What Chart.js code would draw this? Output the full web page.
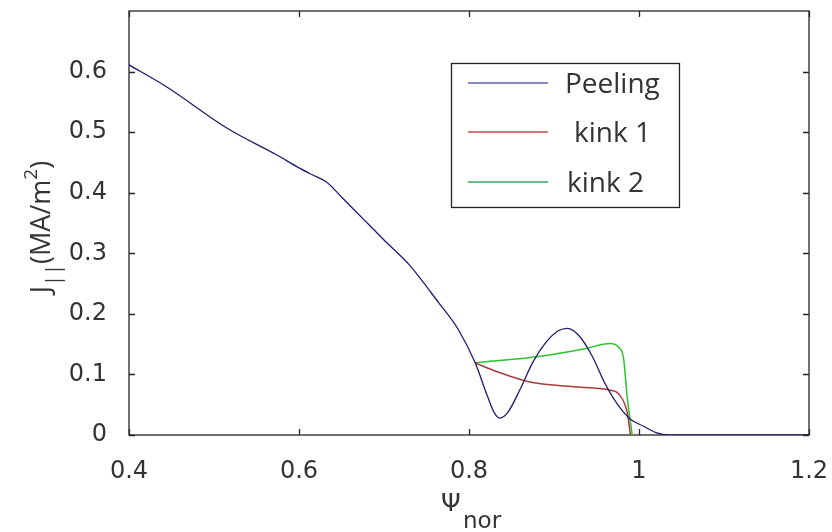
<!DOCTYPE html>
<html>
<head>
<meta charset="utf-8">
<script src="https://cdn.jsdelivr.net/npm/chart.js@4/dist/chart.umd.min.js"></script>
<style>
  html, body { margin: 0; padding: 0; background: #fff; }
  #wrap { width: 832px; height: 532px; }
</style>
</head>
<body>
<div id="wrap"><canvas id="jChart" width="832" height="532"></canvas></div>
<script>
// --- data ---
const peelingX = [0.40, 0.444, 0.516, 0.573, 0.60, 0.615, 0.632, 0.65, 0.676, 0.70, 0.729, 0.764, 0.787, 0.807, 0.822, 0.83, 0.836, 0.845, 0.86, 0.875, 0.89, 0.905, 0.916, 0.93, 0.945, 0.96, 0.975, 0.99, 1.006, 1.02, 1.035, 1.2];
const peelingY = [0.611, 0.575, 0.506, 0.463, 0.441, 0.430, 0.418, 0.393, 0.356, 0.322, 0.282, 0.219, 0.175, 0.12, 0.063, 0.036, 0.028, 0.036, 0.075, 0.12, 0.152, 0.172, 0.176, 0.163, 0.13, 0.085, 0.05, 0.026, 0.014, 0.004, 0, 0];

const kink1X = [0.807, 0.834, 0.873, 0.931, 0.966, 0.976, 0.986, 0.99];
const kink1Y = [0.119, 0.104, 0.087, 0.079, 0.074, 0.068, 0.038, 0];

const kink2X = [0.807, 0.884, 0.935, 0.966, 0.976, 0.982, 0.986, 0.992];
const kink2Y = [0.119, 0.13, 0.142, 0.151, 0.145, 0.125, 0.064, 0];

const xTicks = [0.4, 0.6, 0.8, 1, 1.2];
const yTicks = [0, 0.1, 0.2, 0.3, 0.4, 0.5, 0.6];
const seriesNames = ['Peeling', 'kink 1', 'kink 2'];

const toPoints = (xs, ys) => xs.map((x, i) => ({ x: x, y: ys[i] }));

// frame with inward ticks on all four sides (matlab style box)
const boxPlugin = {
    id: 'boxFrame',
    beforeDatasetsDraw(chart) {
        const { ctx, chartArea: a, scales } = chart;
        ctx.save();
        ctx.strokeStyle = '#262626';
        ctx.lineWidth = 1.3;
        ctx.strokeRect(a.left, a.top, a.right - a.left, a.bottom - a.top);
        const len = 6;
        ctx.beginPath();
        xTicks.forEach(v => {
            const px = Math.round(scales.x.getPixelForValue(v)) + 0.5;
            ctx.moveTo(px, a.bottom); ctx.lineTo(px, a.bottom - len);
            ctx.moveTo(px, a.top); ctx.lineTo(px, a.top + len);
        });
        yTicks.forEach(v => {
            const py = Math.round(scales.y.getPixelForValue(v)) + 0.5;
            ctx.moveTo(a.left, py); ctx.lineTo(a.left + len, py);
            ctx.moveTo(a.right, py); ctx.lineTo(a.right - len, py);
        });
        ctx.stroke();
        ctx.restore();
    }
};

// legend box inside the plot + axis titles with sub/superscripts
const annotPlugin = {
    id: 'annot',
    afterDraw(chart) {
        const { ctx } = chart;
        ctx.save();

        // legend
        ctx.fillStyle = '#fff';
        ctx.fillRect(451, 63, 228, 144);
        ctx.strokeStyle = '#222';
        ctx.lineWidth = 1.3;
        ctx.strokeRect(451.5, 63.5, 228, 144);
        const rowsY = [83, 132, 182];
        const textX = [565, 574, 567];
        chart.data.datasets.forEach((ds, i) => {
            ctx.strokeStyle = ds.legendColor;
            ctx.lineWidth = 1.5;
            ctx.beginPath();
            ctx.moveTo(468, rowsY[i]); ctx.lineTo(548, rowsY[i]);
            ctx.stroke();
            ctx.fillStyle = '#333';
            ctx.font = '28px "Open Sans", sans-serif';
            ctx.textBaseline = 'middle';
            ctx.fillText(seriesNames[i], textX[i], rowsY[i] + 2);
        });

        // x title: Psi_nor
        ctx.fillStyle = '#333';
        ctx.textBaseline = 'alphabetic';
        ctx.font = '25px "DejaVu Sans", sans-serif';
        ctx.fillText('\u03A8', 441, 511);
        ctx.font = '23px "DejaVu Sans", sans-serif';
        ctx.fillText('nor', 463, 528);

        // y title: J_|| (MA/m^2), centred on the plot height
        const parts = [
            { t: 'J', size: 27, dy: 0 },
            { t: '||', size: 20, dy: 10 },
            { t: '(MA/m', size: 27, dy: 0 },
            { t: '2', size: 19, dy: -13 },
            { t: ')', size: 27, dy: 0 }
        ];
        let total = 0;
        parts.forEach(p => {
            ctx.font = p.size + 'px "Open Sans", sans-serif';
            p.w = ctx.measureText(p.t).width;
            total += p.w;
        });
        ctx.translate(50, 227 + total / 2);
        ctx.rotate(-Math.PI / 2);
        let x = 0;
        parts.forEach(p => {
            ctx.font = p.size + 'px "Open Sans", sans-serif';
            ctx.fillText(p.t, x, p.dy);
            x += p.w;
        });
        ctx.restore();
    }
};

const ctx = document.getElementById('jChart').getContext('2d');
const myChart = new Chart(ctx, {
    type: 'line',
    data: {
        datasets: [
            { label: seriesNames[0], data: toPoints(peelingX, peelingY), borderColor: '#1c1c6a', legendColor: '#5a64b4', borderWidth: 1.3 },
            { label: seriesNames[1], data: toPoints(kink1X, kink1Y), borderColor: '#a83a3a', legendColor: '#c84848', borderWidth: 1.5 },
            { label: seriesNames[2], data: toPoints(kink2X, kink2Y), borderColor: '#2ec42e', legendColor: '#3aa860', borderWidth: 1.5 }
        ]
    },
    options: {
        responsive: false,
        animation: false,
        events: [],
        elements: { point: { radius: 0 }, line: { cubicInterpolationMode: 'monotone' } },
        layout: { padding: { top: 11, right: 23, left: 0, bottom: 0 } },
        plugins: { legend: { display: false }, tooltip: { enabled: false } },
        scales: {
            x: {
                type: 'linear', min: 0.4, max: 1.2,
                grid: { display: false },
                border: { display: false },
                afterFit: s => { s.height = 97; s.paddingLeft = 0; s.paddingRight = 0; },
                afterBuildTicks: s => { s.ticks = xTicks.map(v => ({ value: v })); },
                ticks: {
                    color: '#333', padding: 14, maxRotation: 0,
                    font: { family: '"DejaVu Sans", sans-serif', size: 24 },
                    callback: v => String(v)
                }
            },
            y: {
                type: 'linear', min: 0, max: 0.7,
                grid: { display: false },
                border: { display: false },
                afterFit: s => { s.width = 129; s.paddingTop = 0; s.paddingBottom = 0; },
                afterBuildTicks: s => { s.ticks = yTicks.map(v => ({ value: v })); },
                ticks: {
                    color: '#333', padding: 14,
                    font: { family: '"DejaVu Sans", sans-serif', size: 24 },
                    callback: v => String(v)
                }
            }
        }
    },
    plugins: [boxPlugin, annotPlugin]
});
</script>
</body>
</html>
